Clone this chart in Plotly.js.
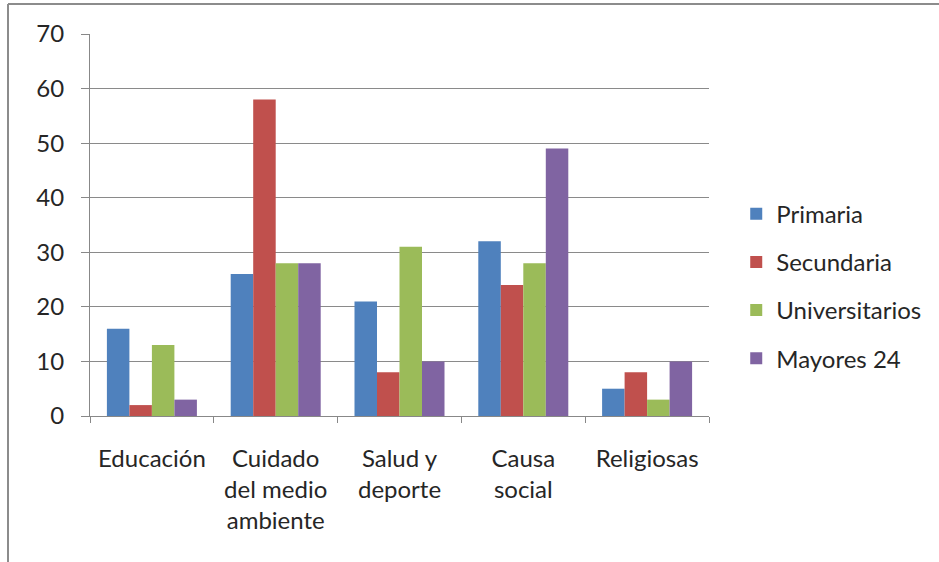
<!DOCTYPE html>
<html><head><meta charset="utf-8">
<script src="https://cdn.plot.ly/plotly-3.0.1.min.js"></script>
<style>html,body{margin:0;padding:0;background:#fff}#chart{width:939px;height:562px}</style>
</head><body><div id="chart"></div>
<script>
const categories = ["Educación", "Cuidado<br>del medio<br>ambiente", "Salud y<br>deporte", "Causa<br>social", "Religiosas"];
const primaria = [16, 26, 21, 32, 5];
const secundaria = [2, 58, 8, 24, 8];
const universitarios = [13, 28, 31, 28, 3];
const mayores24 = [3, 28, 10, 49, 10];
const seriesNames = ["Primaria", "Secundaria", "Universitarios", "Mayores 24"];
const seriesColors = ["#4F81BD", "#C0504D", "#9BBB59", "#8064A2"];
const seriesValues = [primaria, secundaria, universitarios, mayores24];

const traces = seriesValues.map((v, i) => ({
  type: "bar", x: categories, y: v, name: seriesNames[i],
  legendgroup: "g" + i,
  marker: {color: seriesColors[i], line: {width: 0}}
}));

const font = {family: "Lato, 'Open Sans', sans-serif", size: 24, color: "#262626"};
const plotL = 90, plotR = 709, plotT = 34, plotB = 416;
const pw = plotR - plotL, ph = plotB - plotT;
const layout = {
  width: 939, height: 562,
  margin: {l: plotL, r: 939 - plotR, t: plotT, b: 562 - plotB, pad: 0, autoexpand: false},
  paper_bgcolor: "#fff", plot_bgcolor: "#fff",
  font: font,
  barmode: "group", bargap: 0.273, bargroupgap: 0,
  showlegend: true,
  legend: {x: 1.044, y: 0.34, xanchor: "left", yanchor: "middle", traceorder: "grouped",
           tracegroupgap: 14, font: font, itemwidth: 30},
  xaxis: {type: "category", showgrid: false, showline: true, linecolor: "#888", linewidth: 1,
          ticks: "outside", tickson: "boundaries", ticklen: 6, tickcolor: "#888",
          ticklabelstandoff: 21, tickfont: font, fixedrange: true, automargin: false},
  yaxis: {range: [0, 70], dtick: 10, showgrid: true, gridcolor: "#8a8a8a", gridwidth: 1,
          showline: true, linecolor: "#888", linewidth: 1, zeroline: false,
          ticks: "outside", ticklen: 8, tickcolor: "#888", ticklabelstandoff: 12,
          tickfont: font, fixedrange: true, automargin: false},
  shapes: [
    {type: "line", xref: "paper", yref: "paper",
     x0: (8 - plotL) / pw, x1: (939 - plotL) / pw, y0: (plotB - 4) / ph, y1: (plotB - 4) / ph,
     line: {color: "#8c8c8c", width: 2}},
    {type: "line", xref: "paper", yref: "paper",
     x0: (8 - plotL) / pw, x1: (8 - plotL) / pw, y0: (plotB - 4) / ph, y1: (plotB - 562) / ph,
     line: {color: "#8c8c8c", width: 2}}
  ]
};
Plotly.newPlot("chart", traces, layout, {displayModeBar: false, staticPlot: true});
</script></body></html>
